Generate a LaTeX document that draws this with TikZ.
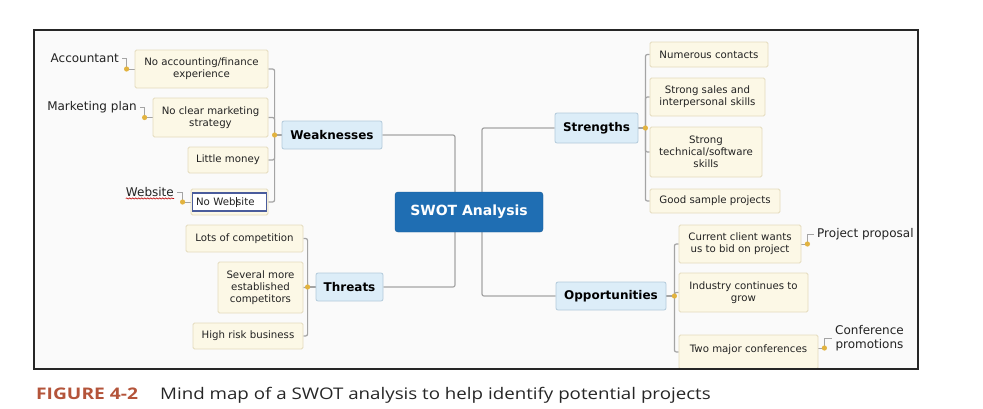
\documentclass[tikz,border=0pt]{standalone}
\usepackage{fontspec}
\setmainfont{DejaVu Sans}
\newfontfamily\capfont{Open Sans}
\usetikzlibrary{calc, decorations.pathmorphing}

\definecolor{leaffill}{HTML}{FCF8E6}
\definecolor{leafline}{HTML}{E4DBBD}
\definecolor{topicfill}{HTML}{DCEDF8}
\definecolor{topicline}{HTML}{B3CADB}
\definecolor{rootfill}{HTML}{1F6EB3}
\definecolor{rootline}{HTML}{175A96}
\definecolor{linkc}{HTML}{A4A4A4}
\definecolor{knobc}{HTML}{E2B33F}
\definecolor{editblue}{HTML}{4A5C9C}
\definecolor{paperc}{HTML}{FAFAFA}
\definecolor{inkc}{HTML}{222222}
\definecolor{capred}{HTML}{B4543A}

\pgfdeclarelayer{paper}
\pgfdeclarelayer{links}
\pgfsetlayers{paper,links,main}

\begin{document}
\begin{tikzpicture}[
    x=1pt, y=-1pt,
    font=\fontsize{10.2}{12.2}\selectfont,
    leaf/.style={draw=leafline, fill=leaffill, rounded corners=1.5pt,
        align=center, text=inkc, inner sep=2pt, line width=0.8pt},
    topic/.style={draw=topicline, fill=topicfill, rounded corners=2pt,
        font=\fontsize{12}{14}\selectfont\bfseries, line width=0.8pt},
    root/.style={draw=rootline, fill=rootfill, rounded corners=3pt,
        text=white, font=\fontsize{14}{16}\selectfont\bfseries},
    note/.style={inner sep=3pt, align=center, text=inkc,
        font=\fontsize{12}{14}\selectfont},
    link/.style={draw=linkc, line width=1.2pt, rounded corners=2pt},
    hook/.style={draw=linkc, line width=1pt},
    knob/.style={fill=knobc}
]
\useasboundingbox (0,0) rectangle (983,408);

% frame
\begin{pgfonlayer}{paper}
\fill[paperc] (34,30) rectangle (918,369);
\end{pgfonlayer}

% central topic
\node[root, minimum width=148, minimum height=40] (swot) at (469,212) {SWOT Analysis};

% main topics
\node[topic, minimum width=100, minimum height=28] (weak) at (332,135) {Weaknesses};
\node[topic, minimum width=67, minimum height=28] (threat) at (349.5,287) {Threats};
\node[topic, minimum width=83, minimum height=30] (strength) at (596.5,128) {Strengths};
\node[topic, minimum width=110, minimum height=28] (opp) at (611,296) {Opportunities};

% weaknesses
\node[leaf, minimum width=133, minimum height=38] (w1) at (201.5,69) {No accounting/finance\\experience};
\node[leaf, minimum width=115, minimum height=39] (w2) at (210.5,117.5) {No clear marketing\\strategy};
\node[leaf, minimum width=80, minimum height=26] (w3) at (228,160) {Little money};
\node[leaf, minimum width=77, minimum height=26] (w4) at (229.5,202) {};
\node[draw=editblue, fill=white, line width=1.2pt, inner sep=2pt, text=inkc,
    minimum width=74, minimum height=18, text width=67, align=left]
    (w4txt) at (w4.center) {No Web\rule[-1.5pt]{0.6pt}{10pt}site};

% labels on weaknesses
\node[note, anchor=east] (acct) at (122,58) {Accountant};
\node[note, anchor=east] (mkt) at (140,107) {Marketing plan};
\node[note, anchor=east] (web) at (177,192) {Website};
\draw[red!75!black, line width=0.6pt, decorate,
    decoration={snake, amplitude=0.6pt, segment length=3pt}]
    ([xshift=3pt,yshift=-2pt]web.base west) -- ([xshift=-3pt,yshift=-2pt]web.base east);

% threats
\node[leaf, minimum width=117, minimum height=27] (t1) at (244.5,238.5) {Lots of competition};
\node[leaf, minimum width=85, minimum height=51] (t2) at (260.5,287.5) {Several more\\established\\competitors};
\node[leaf, minimum width=110, minimum height=26] (t3) at (248,336) {High risk business};

% strengths
\node[leaf, minimum width=118, minimum height=25] (s1) at (709,54.5) {Numerous contacts};
\node[leaf, minimum width=115, minimum height=38] (s2) at (707.5,97) {Strong sales and\\interpersonal skills};
\node[leaf, minimum width=112, minimum height=50] (s3) at (706,152) {Strong\\technical/software\\skills};
\node[leaf, minimum width=130, minimum height=24] (s4) at (715,201) {Good sample projects};

% opportunities
\node[leaf, minimum width=122, minimum height=38] (o1) at (740,244) {Current client wants\\us to bid on project};
\node[leaf, minimum width=129, minimum height=39] (o2) at (743.5,292.5) {Industry continues to\\grow};
\node[leaf, minimum width=139, anchor=base, text height=14pt, text depth=14pt,
    inner sep=3pt] (o3) at (748.5,352) {Two major conferences};

% labels on opportunities
\node[note, anchor=west] (pp) at (814,234) {Project proposal};
\node[note, anchor=west] (cp) at (832,338) {Conference\\promotions};

% branch points
\coordinate (rw) at ([xshift=-14pt]swot.center);
\coordinate (rs) at ([xshift=13pt]swot.center);
\coordinate (kw) at ([xshift=-7pt]weak.west);
\coordinate (kt) at ([xshift=-8pt]threat.west);
\coordinate (ks) at ([xshift=7pt]strength.east);
\coordinate (ko) at ([xshift=8pt]opp.east);
\coordinate (k1) at ([xshift=-8pt]w1.west);
\coordinate (k2) at ([xshift=-8pt]w2.west);
\coordinate (k4) at ([xshift=-8pt]w4.west);
\coordinate (kp) at ([xshift=6pt]o1.east);
\coordinate (kc) at ([xshift=6pt,yshift=4pt]o3.east);

\begin{pgfonlayer}{links}
% root to main topics
\draw[link] (weak.east) -| (rw);
\draw[link] (threat.east) -| (rw);
\draw[link] (strength.west) -| (rs);
\draw[link] (opp.west) -| (rs);
% main topics to leaves
\draw[link] (kw) -- (weak.west);
\foreach \n in {w1,w2,w3,w4} \draw[link] (\n.east) -| (kw);
\draw[link] (kt) -- (threat.west);
\foreach \n in {t1,t2,t3} \draw[link] (\n.east) -| (kt);
\draw[link] (strength.east) -- (ks);
\foreach \n in {s1,s2,s3,s4} \draw[link] (\n.west) -| (ks);
\draw[link] (opp.east) -- (ko);
\foreach \n in {o1,o2,o3} \draw[link] (\n.west) -| (ko);
% leaves to labels
\draw[hook] (acct.east) -| (k1) -- (w1.west);
\draw[hook] (mkt.east) -| (k2) -- (w2.west);
\draw[hook] (web.east) -| (k4) -- (w4.west);
\draw[hook] (o1.east) -- (kp) |- (pp.west);
\draw[hook] (o3.east |- kc) -- (kc) |- (cp.west);
\end{pgfonlayer}

% knobs
\foreach \k in {kw,kt,ks,ko,k1,k2,k4,kp,kc} \fill[knob] (\k) circle (2.6pt);

\draw[line width=1.2pt, black!85] (34,30) rectangle (918,369);

% caption
\node[anchor=base west, inner sep=0, text=capred,
    font=\capfont\fontsize{16}{18}\selectfont\bfseries] (fig) at (36,399)
    {\scalebox{1.2}[1]{FIGURE 4-2}};
\node[anchor=base west, inner sep=0, text=black!85,
    font=\capfont\fontsize{16}{18}\selectfont] (capt) at (160,399)
    {\scalebox{1.17}[1]{Mind map of a SWOT analysis to help identify potential projects}};

\end{tikzpicture}
\end{document}
